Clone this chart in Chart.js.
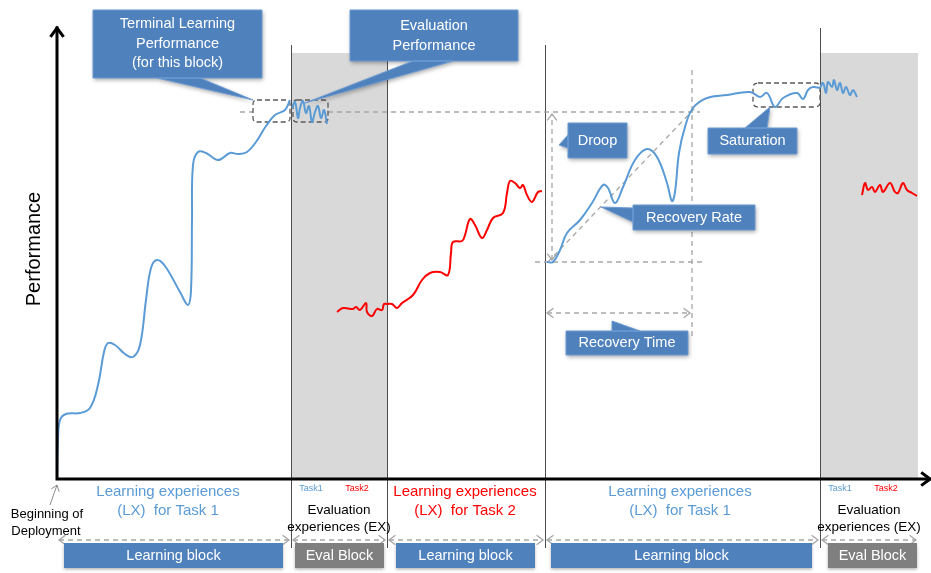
<!DOCTYPE html>
<html>
<head>
<meta charset="utf-8">
<script src="https://cdn.jsdelivr.net/npm/chart.js@4.4.1/dist/chart.umd.min.js"></script>
<style>
  html, body { margin: 0; background: #fff; }
  #wrap { width: 931px; height: 573px; position: relative; }
</style>
</head>
<body>
<div id="wrap"><canvas id="lifelongChart"></canvas></div>
<script>
// x = experiences since deployment, y = performance (arbitrary units)
const task1Block1 = [[0,0],[1,39],[3,59],[9,65],[23,66],[33,71],[41,94],[47,127],[51,136],[58,134],[68,125],[76,122],
  [83,134],[89,179],[94,211],[100,219],[108,213],[123,187],[131,174],[134,189],[135,259],[136,314],[141,327],[149,326],
  [161,319],[173,326],[181,325],[190,327],[199,337],[209,353],[218,364],[228,369],[233,379]];
const task1Eval1 = [[235,371],[238,377],[241,361],[243,371],[246,378],[249,366],[252,373],[255,357],[258,367],
  [261,373],[264,361],[267,369],[270,355]];
const task2Curve = [[280,167],[286,171],[296,170],[299,172],[303,169],[309,176],[310,167],[315,163],[320,170],[325,169],
  [327,175],[330,175],[335,175],[340,171],[345,176],[356,184],[365,199],[373,206],[383,207],[391,204],[394,226],[396,237],
  [405,238],[408,244],[413,260],[418,254],[425,241],[430,249],[436,261],[446,266],[450,286],[453,298],[458,296],[463,291],
  [466,294],[470,284],[475,277],[481,287],[485,288]];
const task1Block3 = [[490,217],[496,217],[503,229],[510,246],[523,259],[535,276],[546,294],[551,291],[558,276],[566,292],
  [578,319],[590,330],[600,322],[610,296],[615,278],[618,287],[622,326],[628,352],[636,371],[650,381],[670,384],[693,387],
  [703,382],[710,386],[718,372],[726,381],[740,386],[746,380],[751,389],[756,392],[763,391]];
const task1Eval2 = [[763,391],[766,396],[769,386],[771,397],[775,392],[777,399],[780,389],[783,396],[786,386],[789,392],
  [793,384],[796,389],[800,382]];
const task2Eval2 = [[805,284],[808,296],[811,289],[815,292],[818,287],[823,294],[826,287],[833,296],[838,287],[841,286],
  [846,296],[850,289],[855,286],[860,283]];

const blockEdges = [0, 234, 330, 488, 763, 861];
const blockKinds = ['learn', 'eval', 'learn', 'learn', 'eval'];
const blockTask = ['Task 1', null, 'Task 2', 'Task 1', null];

const terminalPerf = 367;
const droopLow = 217;
const droopX = 495;
const recoveryEnd = 635;

const BLUE = '#5b9bd5';
const RED = '#ff0000';
const BOX = '#4f81bd';
const FONT = "'Liberation Sans', Arial, sans-serif";

function chevron(ctx, x, y, ang, size) {
  ctx.beginPath();
  ctx.moveTo(x + size * Math.cos(ang + 2.5), y + size * Math.sin(ang + 2.5));
  ctx.lineTo(x, y);
  ctx.lineTo(x + size * Math.cos(ang - 2.5), y + size * Math.sin(ang - 2.5));
  ctx.stroke();
}

function dashedArrow(ctx, x1, y1, x2, y2, heads) {
  ctx.beginPath(); ctx.moveTo(x1, y1); ctx.lineTo(x2, y2); ctx.stroke();
  const a = Math.atan2(y2 - y1, x2 - x1);
  ctx.save(); ctx.setLineDash([]);
  if (heads) { chevron(ctx, x2, y2, a, 8); chevron(ctx, x1, y1, a + Math.PI, 8); }
  ctx.restore();
}

function roundRect(ctx, x, y, w, h, r) {
  ctx.beginPath();
  ctx.moveTo(x + r, y); ctx.lineTo(x + w - r, y); ctx.quadraticCurveTo(x + w, y, x + w, y + r);
  ctx.lineTo(x + w, y + h - r); ctx.quadraticCurveTo(x + w, y + h, x + w - r, y + h);
  ctx.lineTo(x + r, y + h); ctx.quadraticCurveTo(x, y + h, x, y + h - r);
  ctx.lineTo(x, y + r); ctx.quadraticCurveTo(x, y, x + r, y);
  ctx.stroke();
}

function callout(ctx, r, ptr, lines, firstY, step) {
  ctx.save();
  ctx.beginPath();
  ctx.rect(r[0], r[1], r[2], r[3]);
  ctx.moveTo(ptr[0][0], ptr[0][1]); ctx.lineTo(ptr[2][0], ptr[2][1]); ctx.lineTo(ptr[1][0], ptr[1][1]); ctx.closePath();
  ctx.shadowColor = 'rgba(0,0,0,0.35)'; ctx.shadowBlur = 4; ctx.shadowOffsetX = 1; ctx.shadowOffsetY = 2;
  ctx.fillStyle = BOX; ctx.fill('nonzero');
  ctx.shadowColor = 'transparent';
  ctx.strokeStyle = '#6d9bd3'; ctx.lineWidth = 1; ctx.stroke();
  ctx.fillStyle = BOX;
  ctx.fillRect(r[0] + 1, r[1] + 1, r[2] - 2, r[3] - 2);
  ctx.fillStyle = '#fff'; ctx.font = '14.5px ' + FONT; ctx.textAlign = 'center'; ctx.textBaseline = 'middle';
  lines.forEach((t, i) => ctx.fillText(t, r[0] + r[2] / 2, firstY + i * step));
  ctx.restore();
}

const diagram = {
  id: 'diagram',
  beforeDatasetsDraw(chart) {
    const { ctx, scales: { x, y } } = chart;
    const X = v => x.getPixelForValue(v), Y = v => y.getPixelForValue(v);
    ctx.save();
    // shaded evaluation blocks
    ctx.fillStyle = '#d9d9d9';
    blockKinds.forEach((k, i) => {
      if (k === 'eval') ctx.fillRect(X(blockEdges[i]), 53, X(blockEdges[i + 1]) - X(blockEdges[i]), Y(0) - 53);
    });
    // block separators
    ctx.strokeStyle = '#4d4d4d'; ctx.lineWidth = 1;
    for (let i = 1; i < blockEdges.length - 1; i++) {
      const px = Math.round(X(blockEdges[i])) + 0.5;
      ctx.beginPath(); ctx.moveTo(px, i === 4 ? 28 : 45); ctx.lineTo(px, 548); ctx.stroke();
    }
    // light dashed guides
    ctx.strokeStyle = '#a6a6a6'; ctx.lineWidth = 1.3; ctx.setLineDash([5, 4]);
    ctx.beginPath();
    ctx.moveTo(240, Y(terminalPerf)); ctx.lineTo(253, Y(terminalPerf));
    ctx.moveTo(328, Y(terminalPerf)); ctx.lineTo(X(recoveryEnd + 8), Y(terminalPerf));
    ctx.moveTo(X(blockEdges[3] - 10), Y(droopLow)); ctx.lineTo(X(recoveryEnd + 10), Y(droopLow));
    ctx.moveTo(X(recoveryEnd), 70); ctx.lineTo(X(recoveryEnd), 338);
    ctx.moveTo(X(blockEdges[3] + 3), Y(droopLow)); ctx.lineTo(X(recoveryEnd + 3), Y(terminalPerf + 4));
    ctx.stroke();
    dashedArrow(ctx, X(droopX), Y(droopLow) - 2, X(droopX), Y(terminalPerf) + 2, true);
    dashedArrow(ctx, X(blockEdges[3]) + 2, 313, X(recoveryEnd) - 2, 313, true);
    for (let i = 0; i < blockEdges.length - 1; i++) {
      dashedArrow(ctx, X(blockEdges[i]) + 2, 540, X(blockEdges[i + 1]) - 2, 540, true);
    }
    // dark dashed focus boxes
    ctx.strokeStyle = '#595959'; ctx.setLineDash([5, 3]);
    roundRect(ctx, 253, 100, 37, 22, 4);
    roundRect(ctx, 293, 100, 35, 22, 4);
    roundRect(ctx, 753, 83, 67, 24, 5);
    ctx.restore();
  },
  afterDatasetsDraw(chart) {
    const { ctx, scales: { x, y } } = chart;
    const X = v => x.getPixelForValue(v), Y = v => y.getPixelForValue(v);
    ctx.save();
    // axes
    ctx.strokeStyle = '#000'; ctx.lineWidth = 3; ctx.lineCap = 'square';
    ctx.beginPath(); ctx.moveTo(X(0), Y(0)); ctx.lineTo(X(0), 28); ctx.moveTo(X(0), Y(0)); ctx.lineTo(929, Y(0)); ctx.stroke();
    ctx.lineCap = 'butt';
    chevron(ctx, X(0), 28, -Math.PI / 2, 11);
    chevron(ctx, 930, Y(0), 0, 11);

    // axis title
    ctx.fillStyle = '#000'; ctx.font = '20px ' + FONT; ctx.textAlign = 'center'; ctx.textBaseline = 'middle';
    ctx.save(); ctx.translate(34, 249); ctx.rotate(-Math.PI / 2); ctx.fillText('Performance', 0, 0); ctx.restore();

    // block descriptions
    const lxCenters = [168, null, 465, 680];
    blockKinds.forEach((k, i) => {
      const x0 = X(blockEdges[i]), x1 = X(blockEdges[i + 1]);
      if (k === 'learn') {
        ctx.fillStyle = blockTask[i] === 'Task 2' ? RED : BLUE;
        ctx.font = '15px ' + FONT;
        ctx.fillText('Learning experiences', lxCenters[i], 492);
        ctx.fillText('(LX)  for ' + blockTask[i], lxCenters[i], 511);
      } else {
        const c = (x0 + x1) / 2;
        ctx.font = '9px ' + FONT;
        ctx.fillStyle = BLUE; ctx.fillText('Task1', x0 + 20, 489);
        ctx.fillStyle = RED; ctx.fillText('Task2', x0 + 66, 489);
        ctx.fillStyle = '#000'; ctx.font = '13.5px ' + FONT;
        ctx.fillText('Evaluation', c, 510);
        ctx.fillText('experiences (EX)', c, 527);
      }
    });
    ctx.font = '13px ' + FONT; ctx.fillStyle = '#000';
    ctx.fillText('Beginning of', 47, 514);
    ctx.fillText('Deployment', 46, 531);
    ctx.strokeStyle = '#8c8c8c'; ctx.lineWidth = 1;
    ctx.beginPath(); ctx.moveTo(50, 505); ctx.lineTo(57, 485); ctx.stroke();
    chevron(ctx, 57, 485, Math.atan2(-20, 7), 7);

    // bottom block labels
    const labelSpans = [[64, 283], [295, 384], [396, 535], [551, 812], [828, 917]];
    ctx.font = '14.5px ' + FONT;
    labelSpans.forEach((s, i) => {
      ctx.save();
      ctx.shadowColor = 'rgba(0,0,0,0.3)'; ctx.shadowBlur = 3; ctx.shadowOffsetY = 1.5;
      ctx.fillStyle = blockKinds[i] === 'eval' ? '#7f7f7f' : BOX;
      ctx.fillRect(s[0], 543, s[1] - s[0], 25);
      ctx.restore();
      ctx.fillStyle = '#fff';
      ctx.fillText(blockKinds[i] === 'eval' ? 'Eval Block' : 'Learning block', (s[0] + s[1]) / 2, 556);
    });

    // callouts
    callout(ctx, [93, 10, 169, 68], [[157, 78], [200, 78], [253, 100]], ['Terminal Learning', 'Performance', '(for this block)'], 24, 19.5);
    callout(ctx, [350, 10, 168, 51], [[413, 61], [453, 61], [305, 103]], ['Evaluation', 'Performance'], 26, 19.5);
    callout(ctx, [568, 123, 59, 35], [[568, 135], [568, 148], [559, 145]], ['Droop'], 141, 0);
    callout(ctx, [708, 128, 89, 26], [[745, 128], [767, 128], [770, 107]], ['Saturation'], 141, 0);
    callout(ctx, [633, 205, 122, 25], [[633, 208], [633, 222], [601, 207]], ['Recovery Rate'], 218, 0);
    callout(ctx, [566, 331, 122, 24], [[612, 331], [640, 331], [612, 321]], ['Recovery Time'], 343, 0);
    ctx.restore();
  }
};

const line = (data, color) => ({
  data, borderColor: color, borderWidth: 2, pointRadius: 0, fill: false,
  tension: 0.4, clip: false
});

new Chart(document.getElementById('lifelongChart'), {
  type: 'line',
  data: {
    datasets: [
      line(task1Block1, BLUE),
      line(task1Eval1, BLUE),
      line(task2Curve, RED),
      line(task1Block3, BLUE),
      line(task1Eval2, BLUE),
      line(task2Eval2, RED)
    ]
  },
  options: {
    responsive: true,
    maintainAspectRatio: false,
    animation: false,
    parsing: { xAxisKey: 0, yAxisKey: 1 },
    layout: { padding: { left: 57, right: 4, top: 28, bottom: 94 } },
    scales: {
      x: { type: 'linear', min: 0, max: 870, display: false },
      y: { type: 'linear', min: 0, max: 451, display: false }
    },
    plugins: { legend: { display: false }, tooltip: { enabled: false } }
  },
  plugins: [diagram]
});
</script>
</body>
</html>
